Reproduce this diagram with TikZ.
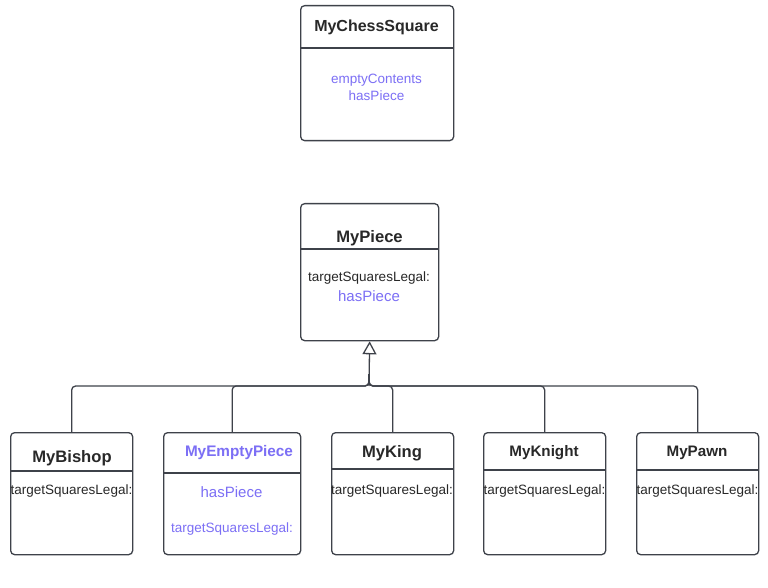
\documentclass[tikz,border=0pt]{standalone}
\usepackage{fontspec}
\setmainfont{Liberation Sans}
\usetikzlibrary{arrows.meta}
\definecolor{lineC}{RGB}{62,66,74}
\definecolor{txtC}{RGB}{40,40,40}
\definecolor{purp}{RGB}{124,111,245}
\tikzset{
  box/.style={draw=lineC, line width=1.3pt, rounded corners=4pt, fill=white, inner sep=0pt, anchor=north west},
  divider/.style={draw=lineC, line width=1.3pt},
  title/.style={font=\fontsize{16}{18}\selectfont\bfseries, text=txtC, inner sep=0pt},
  titleL/.style={font=\fontsize{16.6}{18}\selectfont\bfseries, text=txtC, inner sep=0pt},
  attr/.style={font=\fontsize{13.5}{16}\selectfont, text=txtC, inner sep=0pt},
  pattr/.style={font=\fontsize{13.5}{16}\selectfont, text=purp, inner sep=0pt},
  pattrL/.style={font=\fontsize{15}{17}\selectfont, text=purp, inner sep=0pt},
  conn/.style={draw=lineC, line width=1.3pt, rounded corners=4pt},
}
\begin{document}
\begin{tikzpicture}[x=1pt,y=-1pt]
\useasboundingbox (0,0) rectangle (768,588);
% boxes
\node[box, minimum width=153, minimum height=135] (square) at (300,5) {};
\node[box, minimum width=138, minimum height=137] (piece) at (300,203) {};
\node[box, minimum width=122, minimum height=122] (bishop) at (10,432) {};
\node[box, minimum width=137, minimum height=122] (empty) at (163,432) {};
\node[box, minimum width=122, minimum height=122] (king) at (331,432) {};
\node[box, minimum width=122, minimum height=122] (knight) at (483,432) {};
\node[box, minimum width=122, minimum height=122] (pawn) at (636,432) {};
% dividers
\draw[divider] (square.west |- 0,48) -- (square.east |- 0,48);
\draw[divider] (piece.west |- 0,249) -- (piece.east |- 0,249);
\draw[divider] (bishop.west |- 0,471) -- (bishop.east |- 0,471);
\draw[divider] (empty.west |- 0,473) -- (empty.east |- 0,473);
\draw[divider] (king.west |- 0,469) -- (king.east |- 0,469);
\draw[divider] (knight.west |- 0,470) -- (knight.east |- 0,470);
\draw[divider] (pawn.west |- 0,470) -- (pawn.east |- 0,470);
% texts
\node[title] (tsq) at (376.5,27) {MyChessSquare};
\node[pattr] (sq1) at (376.5,80) {emptyContents};
\node[pattr] (sq2) at (376.5,96) {hasPiece};
\node[titleL] (tpc) at (369.5,238) {MyPiece};
\node[attr] (pc1) at (369,278) {targetSquaresLegal:};
\node[pattrL] (pc2) at (369,296) {hasPiece};
\node[titleL] (tbi) at (72,458) {MyBishop};
\node[attr, anchor=west] (bi1) at (10.5,491) {targetSquaresLegal:};
\node[title, text=purp, font=\fontsize{15.3}{18}\selectfont\bfseries] (tem) at (239,453) {MyEmptyPiece};
\node[pattrL] (em1) at (231.5,492) {hasPiece};
\node[pattr] (em2) at (232,529) {targetSquaresLegal:};
\node[titleL] (tki) at (392,453) {MyKing};
\node[attr, anchor=west] (ki1) at (331,491) {targetSquaresLegal:};
\node[title, font=\fontsize{15.2}{18}\selectfont\bfseries] (tkn) at (544,453) {MyKnight};
\node[attr, anchor=west] (kn1) at (483.5,491) {targetSquaresLegal:};
\node[title, font=\fontsize{15.2}{18}\selectfont\bfseries] (tpa) at (697,453) {MyPawn};
\node[attr, anchor=west] (pa1) at (636.5,491) {targetSquaresLegal:};
% connectors
\coordinate (bus) at (369,386);
\foreach \c in {bishop,empty,king,knight,pawn}{
  \draw[conn] (\c.north) |- (bus) -- ++(0,-12);
}
\draw[draw=lineC, line width=1.3pt, -{Triangle[open,length=13pt,width=14pt,line width=1.3pt]}] (bus) -- (piece.south);
\end{tikzpicture}
\end{document}
